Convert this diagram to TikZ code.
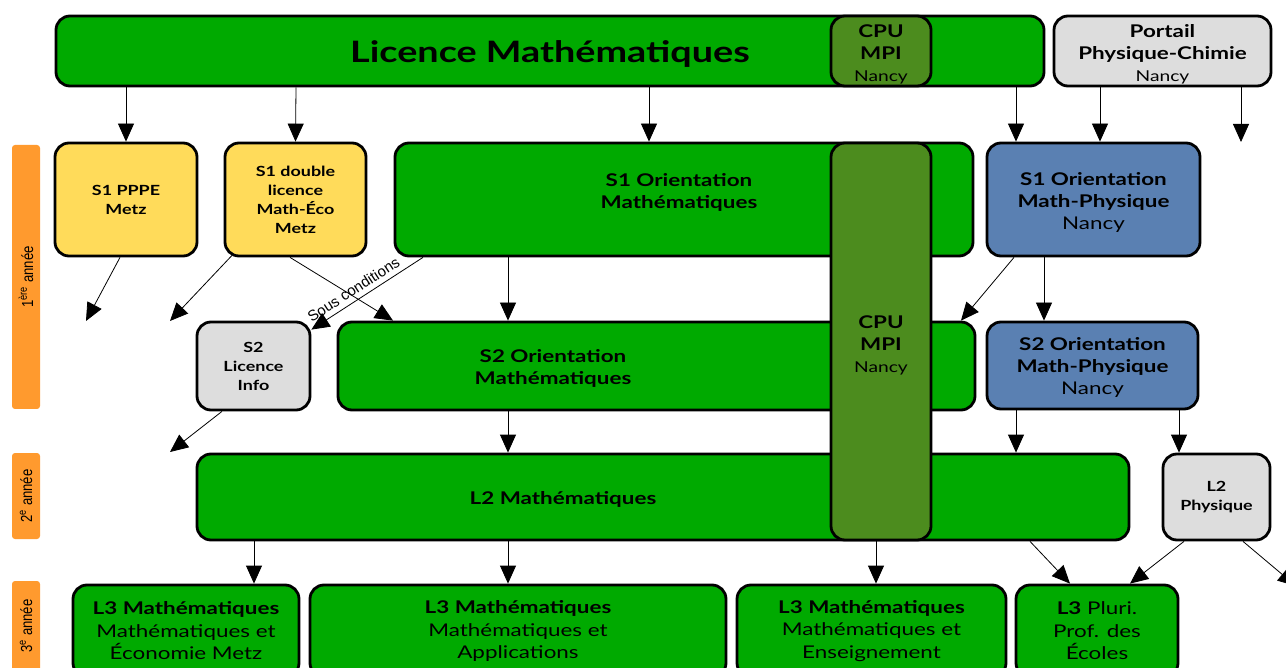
\documentclass[tikz,border=0pt]{standalone}
\usepackage{fontspec}
\setmainfont{Lato}[FakeStretch=1.28]
\newfontfamily\sidefont{Liberation Sans}
\newfontfamily\yearfont{Liberation Sans}[FakeStretch=0.82]
\usetikzlibrary{arrows.meta}

\definecolor{licgreen}{RGB}{0,170,0}
\definecolor{cpugreen}{RGB}{76,140,30}
\definecolor{metzyellow}{RGB}{255,219,90}
\definecolor{nancyblue}{RGB}{90,128,178}
\definecolor{boxgray}{RGB}{221,221,221}
\definecolor{yearorange}{RGB}{255,154,46}

\begin{document}
\begin{tikzpicture}[x=1pt,y=-1pt,>=stealth,
    box/.style={draw=black,line width=2.8pt,rounded corners=14pt,align=center,inner sep=0pt},
    big/.style={font=\bfseries\fontsize{17.5}{22}\selectfont,align=center},
    small/.style={font=\bfseries\fontsize{14}{19}\selectfont},
    lthree/.style={box,fill=licgreen,font=\fontsize{17.5}{22.5}\selectfont},
    arr/.style={-{Triangle[width=16pt,length=18pt]},line width=0.8pt},
    year/.style={fill=yearorange,rounded corners=3pt,minimum height=28pt,inner sep=0pt,
        font=\yearfont\fontsize{16}{16}\selectfont,rotate=90}]
\useasboundingbox (0,0) rectangle (1286,668);

% annees
\node[year,minimum width=264pt] (an1) at (26,277) {1\textsuperscript{ère} année};
\node[year,minimum width=86pt] (an2) at (26,496) {2\textsuperscript{e} année};
\node[year,minimum width=90pt] (an3) at (26,626) {3\textsuperscript{e} année};

% premiere annee
\node[box,fill=licgreen,minimum width=988pt,minimum height=70pt] (lic) at (550,51) {};
\node[font=\bfseries\fontsize{29.5}{30}\selectfont] (lict) at (550,54) {Licence Mathématiques};
\node[box,fill=cpugreen,minimum width=100pt,minimum height=70pt] (cpu1) at (881,51) {};
\node[big] (cpu1t) at (881,54) {CPU\\MPI\\{\normalfont\fontsize{15}{20}\selectfont Nancy}};
\node[box,fill=boxgray,minimum width=217pt,minimum height=70pt] (portail) at (1162.5,51) {};
\node[big] (portailt) at (1162.5,54)
    {Portail\\Physique-Chimie\\{\normalfont\fontsize{15}{20}\selectfont Nancy}};

\node[box,small,fill=metzyellow,minimum width=142pt,minimum height=113pt] (pppe) at (126,199.5)
    {S1 PPPE\\Metz};
\node[box,small,fill=metzyellow,minimum width=141pt,minimum height=113pt] (dbl) at (295.5,199.5)
    {S1 double\\licence\\Math-Éco\\Metz};
\node[box,fill=licgreen,minimum width=578pt,minimum height=113pt] (s1m) at (684,199.5) {};
\node[big] (s1mt) at (679,192) {S1 Orientation\\Mathématiques};
\node[box,fill=nancyblue,minimum width=213pt,minimum height=113pt] (s1p) at (1093.5,199.5) {};
\node[big] (s1pt) at (1093.5,202) {S1 Orientation\\Math-Physique\\{\normalfont Nancy}};

\node[box,small,fill=boxgray,minimum width=113pt,minimum height=88pt] (s2i) at (253.5,366)
    {S2\\Licence\\Info};
\node[box,fill=licgreen,minimum width=637pt,minimum height=88pt] (s2m) at (656.5,366) {};
\node[big] (s2mt) at (553,368) {S2 Orientation\\Mathématiques};
\node[box,fill=nancyblue,minimum width=211pt,minimum height=87pt] (s2p) at (1092.5,365.5) {};
\node[big] (s2pt) at (1092.5,367.5) {S2 Orientation\\Math-Physique\\{\normalfont Nancy}};

% deuxieme annee
\node[box,fill=licgreen,minimum width=932pt,minimum height=86pt] (l2m) at (663,497) {};
\node[big] (l2mt) at (563,499) {L2 Mathématiques};
\node[box,small,fill=boxgray,minimum width=107pt,minimum height=86pt] (l2p) at (1216.5,497)
    {L2\\Physique};

% CPU par dessus
\node[box,fill=cpugreen,minimum width=100pt,minimum height=397pt] (cpu2) at (881,341.5) {};
\node[big] (cpu2t) at (881,345.5) {CPU\\MPI\\{\normalfont\fontsize{15}{20}\selectfont Nancy}};

% troisieme annee
\node[lthree,minimum width=226pt,minimum height=92pt] (l3e) at (186,631)
    {\textbf{L3 Mathématiques}\\Mathématiques et\\Économie Metz};
\node[lthree,minimum width=416pt,minimum height=92pt] (l3a) at (518,631)
    {\textbf{L3 Mathématiques}\\Mathématiques et\\Applications};
\node[lthree,minimum width=269pt,minimum height=92pt] (l3s) at (871.5,631)
    {\textbf{L3 Mathématiques}\\Mathématiques et\\Enseignement};
\node[lthree,minimum width=162pt,minimum height=92pt] (l3p) at (1097,631)
    {\textbf{L3} Pluri.\\Prof. des\\Écoles};

% bouts libres
\coordinate (fr1) at (1241,142);
\coordinate (fr2) at (86,321);
\coordinate (fr3) at (170,321);
\coordinate (fr4) at (170,452);
\coordinate (fr5) at (1296,586);

% fleches
\draw[arr] ([xshift=-424pt]lic.south) -- (pppe.north);
\draw[arr] ([xshift=-254pt]lic.south) -- (dbl.north);
\draw[arr] ([xshift=99pt]lic.south) -- ([xshift=-35pt]s1m.north);
\draw[arr] ([xshift=466pt]lic.south) -- ([xshift=-77.5pt]s1p.north);
\draw[arr] ([xshift=-62.5pt]portail.south) -- ([xshift=6.5pt]s1p.north);
\draw[arr] ([xshift=78.5pt]portail.south) -- (fr1);

\draw[arr] ([xshift=-6pt]pppe.south) -- (fr2);
\draw[arr] ([xshift=-63.5pt,yshift=2pt]dbl.south) -- (fr3);
\draw[arr] ([xshift=-5.5pt]dbl.south) -- ([xshift=-263.5pt]s2m.north);
\draw[arr] ([xshift=-261pt]s1m.south) -- ([yshift=-9pt]s2i.north east)
    node[pos=0.57,sloped,above,inner sep=5pt,font=\sidefont\fontsize{15}{15}\selectfont] (cond) {Sous conditions};
\draw[arr] ([xshift=-176pt]s1m.south) -- ([xshift=-148.5pt]s2m.north);
\draw[arr] ([xshift=-79.5pt]s1p.south) -- ([xshift=304.5pt]s2m.north);
\draw[arr] ([xshift=-49.5pt]s1p.south) -- ([xshift=-48.5pt]s2p.north);

\draw[arr] ([xshift=-31.5pt]s2i.south) -- (fr4);
\draw[arr] ([xshift=-148.5pt]s2m.south) -- ([xshift=-155pt]l2m.north);
\draw[arr] ([xshift=-76.5pt]s2p.south) -- ([xshift=353pt]l2m.north);
\draw[arr] ([xshift=86.5pt]s2p.south) -- ([xshift=-37.5pt]l2p.north);

\draw[arr] ([xshift=-409pt]l2m.south) -- ([xshift=68pt]l3e.north);
\draw[arr] ([xshift=-155pt]l2m.south) -- ([xshift=-10pt]l3a.north);
\draw[arr] ([xshift=213pt]l2m.south) -- ([xshift=4.5pt]l3s.north);
\draw[arr] ([xshift=367pt]l2m.south) -- ([xshift=-27pt]l3p.north);
\draw[arr] ([xshift=-32.5pt]l2p.south) -- ([xshift=33pt]l3p.north);
\draw[arr] ([xshift=26.5pt]l2p.south) -- (fr5);
\end{tikzpicture}
\end{document}
